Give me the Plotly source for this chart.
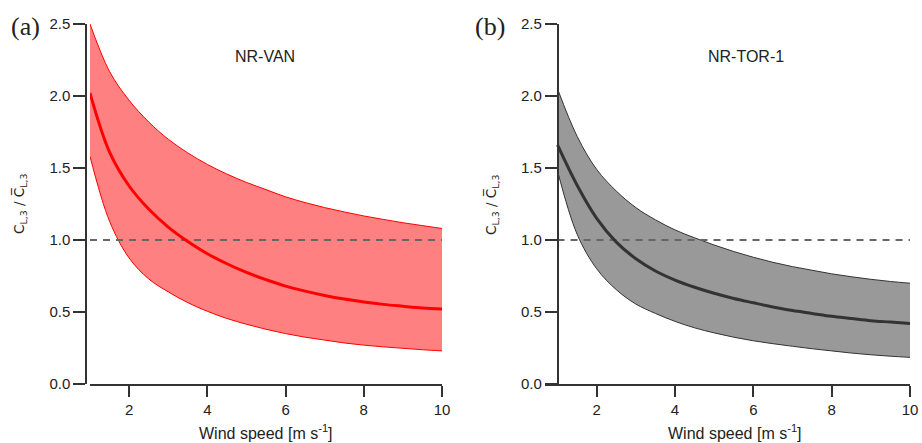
import plotly.graph_objects as go

# ---- data ----
wind = [1, 1.5, 2, 2.5, 3, 3.5, 4, 4.5, 5, 5.5, 6, 6.5, 7, 7.5, 8, 8.5, 9, 9.5, 10]

van_upper = [2.50, 2.17, 1.97, 1.82, 1.70, 1.605, 1.525, 1.458, 1.40, 1.35, 1.30, 1.26, 1.225, 1.195, 1.167, 1.143, 1.12, 1.10, 1.08]
van_mean  = [2.02, 1.61, 1.375, 1.215, 1.09, 0.99, 0.905, 0.835, 0.775, 0.725, 0.68, 0.645, 0.615, 0.59, 0.57, 0.553, 0.54, 0.528, 0.52]
van_lower = [1.58, 1.13, 0.875, 0.73, 0.64, 0.565, 0.505, 0.455, 0.415, 0.38, 0.35, 0.325, 0.305, 0.285, 0.27, 0.258, 0.248, 0.238, 0.23]

tor_upper = [2.05, 1.72, 1.49, 1.34, 1.225, 1.14, 1.07, 1.015, 0.965, 0.92, 0.88, 0.845, 0.815, 0.79, 0.765, 0.745, 0.727, 0.712, 0.70]
tor_mean  = [1.66, 1.38, 1.15, 0.985, 0.87, 0.785, 0.722, 0.672, 0.63, 0.594, 0.564, 0.535, 0.51, 0.49, 0.47, 0.455, 0.44, 0.43, 0.42]
tor_lower = [1.48, 1.04, 0.80, 0.655, 0.555, 0.49, 0.435, 0.39, 0.355, 0.325, 0.30, 0.28, 0.262, 0.245, 0.23, 0.215, 0.203, 0.193, 0.185]

ref_level = 1.0
ref_x = [1, 10]

x_ticks = [2, 4, 6, 8, 10]
y_ticks = [0.0, 0.5, 1.0, 1.5, 2.0, 2.5]

panel_names = ["NR-VAN", "NR-TOR-1"]
panel_letters = ["(a)", "(b)"]

FONT = "Liberation Sans, Arial, sans-serif"
AX = "#333333"
TXT = "#222222"
W, H = 922, 443

fig = go.Figure()

def add_panel(xa, ya, lower, mean, upper, edge, fill, mean_col):
    fig.add_trace(go.Scatter(x=wind, y=lower, xaxis=xa, yaxis=ya, mode="lines",
                             line=dict(color=edge, width=1, shape="spline", smoothing=1),
                             showlegend=False, hoverinfo="skip"))
    fig.add_trace(go.Scatter(x=wind, y=upper, xaxis=xa, yaxis=ya, mode="lines",
                             line=dict(color=edge, width=1, shape="spline", smoothing=1),
                             fill="tonexty", fillcolor=fill,
                             showlegend=False, hoverinfo="skip"))
    fig.add_trace(go.Scatter(x=ref_x, y=[ref_level, ref_level], xaxis=xa, yaxis=ya,
                             mode="lines", line=dict(color="#666666", width=2, dash="7px,6px"),
                             showlegend=False, hoverinfo="skip"))
    fig.add_trace(go.Scatter(x=wind, y=mean, xaxis=xa, yaxis=ya, mode="lines",
                             line=dict(color=mean_col, width=3, shape="spline", smoothing=1),
                             showlegend=False))

add_panel("x", "y", van_lower, van_mean, van_upper, "#ff0000", "#ff8080", "#ff0000")
add_panel("x2", "y2", tor_lower, tor_mean, tor_upper, "#333333", "#999999", "#333333")

ydom = [1 - 384 / H, 1 - 24 / H]

xcommon = dict(showgrid=False, zeroline=False, showline=True, linecolor=AX, linewidth=1.5,
               ticks="outside", ticklen=11, tickwidth=1.5, tickcolor=AX, automargin=False,
               tickvals=x_ticks, tickfont=dict(family=FONT, size=15, color=TXT))
ycommon = dict(showgrid=False, zeroline=False, showline=True, linecolor=AX, linewidth=1.5,
               ticks="outside", ticklen=12, tickwidth=1.5, tickcolor=AX, automargin=False,
               tickvals=y_ticks, tickformat=".1f", range=[0, 2.5], domain=ydom,
               tickfont=dict(family=FONT, size=15, color=TXT), anchor="free")

fig.update_layout(
    width=W, height=H, margin=dict(l=0, r=0, t=0, b=0, autoexpand=False),
    paper_bgcolor="white", plot_bgcolor="white",
    xaxis=dict(domain=[90 / W, 442 / W], range=[1, 10], anchor="y", **xcommon),
    yaxis=dict(position=86 / W, **ycommon),
    xaxis2=dict(domain=[545 / W, 910 / W], range=[0.68, 10], anchor="y2", **xcommon),
    yaxis2=dict(position=557.5 / W, **ycommon),
)

ann = []
ytitle = "C<sub>L,3</sub> / C\u0305<sub>L,3</sub>"
xtitle = "Wind speed [m s<sup>-1</sup>]"
for xc_y, xc_x, xc_name, xc_letter, name, letter in [
    (20, 266, 265, 25, panel_names[0], panel_letters[0]),
    (492, 735, 746, 490, panel_names[1], panel_letters[1]),
]:
    ann.append(dict(x=xc_y / W, y=1 - 204 / H, xref="paper", yref="paper", text=ytitle,
                    textangle=-90, showarrow=False, xanchor="center", yanchor="middle",
                    font=dict(family="DejaVu Sans, " + FONT, size=13.5, color=TXT)))
    ann.append(dict(x=xc_x / W, y=1 - 432 / H, xref="paper", yref="paper", text=xtitle,
                    showarrow=False, xanchor="center", yanchor="middle",
                    font=dict(family=FONT, size=16, color=TXT)))
    ann.append(dict(x=xc_name / W, y=1 - 57 / H, xref="paper", yref="paper", text=name,
                    showarrow=False, xanchor="center", yanchor="middle",
                    font=dict(family=FONT, size=16, color=TXT)))
    ann.append(dict(x=xc_letter / W, y=1 - 27 / H, xref="paper", yref="paper", text=letter,
                    showarrow=False, xanchor="center", yanchor="middle",
                    font=dict(family="Liberation Serif, Times New Roman, serif", size=26, color=TXT)))
fig.update_layout(annotations=ann)

fig.write_html("out.html")
